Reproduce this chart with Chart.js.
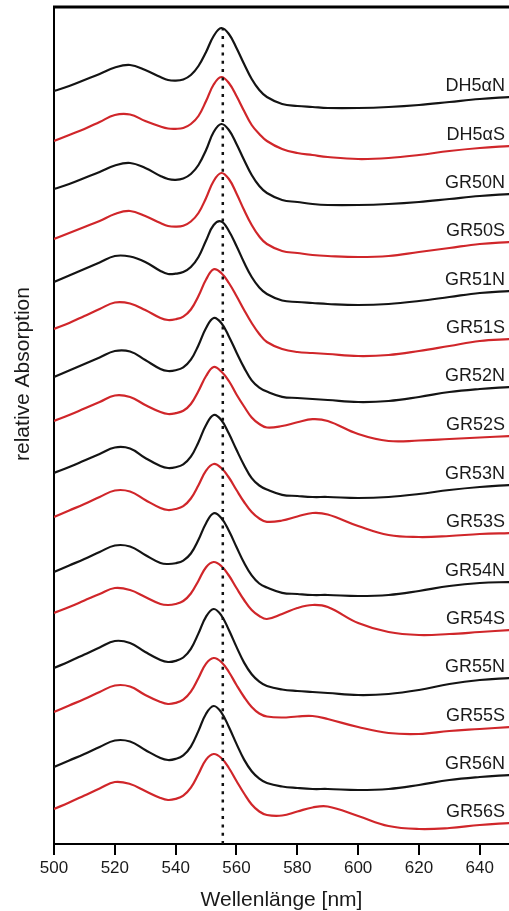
<!DOCTYPE html>
<html>
<head>
<meta charset="utf-8">
<script src="https://cdn.jsdelivr.net/npm/chart.js@4.4.1/dist/chart.umd.min.js"></script>
<style>
  html, body { margin: 0; padding: 0; background: #fff; }
  #wrap { width: 509px; height: 911px; position: relative; }
</style>
</head>
<body>
<div id="wrap"><canvas id="spectra"></canvas></div>
<script>
const wavelengths = [500, 505, 510, 515, 520, 525, 530, 535, 537.5, 540, 542.5, 545, 547.5, 550, 552.5,
    555, 557.5, 560, 562.5, 565, 567.5, 570, 575, 580, 585, 590, 600, 610, 620, 630, 640, 650];

// relative absorption of each sample, relative to its own value at 500 nm
const dh5aN = [0, 5, 11, 17, 23.5, 26, 21, 14, 11, 10.3, 11.5, 16, 25, 39, 55, 63, 57, 43, 27, 12, 1, -6, -13, -15, -16, -17, -17, -16, -14, -11, -8, -6];
const dh5aS = [0, 6, 12, 19, 26, 26.5, 20, 14.5, 12.5, 12.2, 13, 17, 25, 40, 56.5, 64, 58, 45, 30, 16, 7, 0, -8, -12, -14, -16, -18, -17, -14, -10, -7, -5];
const gr50N = [0, 5, 11, 17, 23.5, 26, 21, 13, 10, 9.2, 10.5, 15, 24, 39, 57, 65, 59, 45, 29, 14, 3, -4, -11, -13, -15, -16, -16, -15, -13, -10, -7, -5];
const gr50S = [0, 6, 12, 18, 25, 28, 23, 16, 13, 12.3, 13.2, 17.5, 26, 41, 58, 66, 60, 45.5, 29, 14, 2.5, -5, -12, -14, -16, -17, -18, -17, -13, -9, -5, -3];
const gr51N = [0, 6.5, 13, 19.5, 26, 25.5, 20, 11, 8, 8.3, 10, 15, 25, 41.5, 57, 60.5, 51, 36, 19.5, 5, -5.5, -12, -18.5, -20, -21, -22, -23, -22, -19, -15, -11, -9];
const gr51S = [0, 6, 13, 20, 26.5, 25.5, 19, 11, 9, 9.8, 12.4, 19.5, 33, 49.5, 59.7, 56, 46, 33, 19, 6, -5, -13, -20, -23, -24, -25, -27, -26, -22, -17, -12, -10];
const gr52N = [0, 6.5, 13, 19.5, 26, 25.5, 17, 8, 6, 6.8, 9.7, 17.3, 31.8, 49, 59, 54, 40.6, 24.6, 9.4, -3.4, -10.6, -14.6, -19.8, -21, -22, -23, -25, -24, -20, -15, -12, -10];
const gr52S = [0, 6, 12.5, 19, 25.5, 24, 16, 9, 7, 7.8, 10.2, 17, 30, 45, 54, 49.5, 40, 26.5, 14.5, 3.5, -3, -6.5, -5, -1.3, 1.8, 0, -13, -20, -19.5, -18, -16.5, -15];
const gr53N = [0, 6, 12.5, 19, 25.5, 24.5, 15, 7, 5, 5.8, 8.7, 16.3, 30.8, 48, 58, 53, 39.4, 23.2, 7.8, -5.2, -12.5, -16.5, -21.8, -23, -24, -24, -25, -24, -21, -17, -14, -12];
const gr53S = [0, 6.5, 13, 20, 26.5, 25.5, 17, 9, 7, 8, 10.9, 18.5, 31.8, 46.4, 53, 49, 39.5, 27, 15, 5, -1.5, -4.8, -3.5, 0.5, 4, 2.5, -9, -18, -20, -19, -17, -16];
const gr54N = [0, 6.5, 13, 20, 26.5, 25.5, 17, 9, 8, 8.8, 11.4, 18.5, 32.2, 48.8, 58.7, 54, 41.2, 25, 9.2, -3.4, -11.5, -15.5, -20.8, -22, -23, -23, -24, -23, -19, -14, -11, -10];
const gr54S = [0, 6, 12.5, 19, 25, 23, 16, 9, 8, 9, 12, 19.5, 32.3, 45.8, 51, 47, 37.5, 25, 13, 3, -3, -6, -1, 5, 8, 6, -10, -19, -22, -21, -19, -17];
const gr55N = [0, 6.5, 13.5, 20.5, 27, 25, 16, 8, 6, 7.1, 10.5, 19.2, 34.6, 51.4, 59, 52.7, 38, 21.1, 5.4, -6.2, -13.6, -18, -21.5, -23, -24, -25, -27, -26, -22, -16, -12, -10];
const gr55S = [0, 6.5, 13, 20, 26.5, 25.5, 17, 10, 8, 9.1, 12.3, 20.3, 34, 48.4, 54, 50, 40, 27, 15, 5, -1.5, -4.5, -5.5, -4.5, -4, -7, -15, -21, -22, -19, -17, -15];
const gr56N = [0, 6.5, 13, 20, 26.5, 25.5, 17, 9, 7, 8.1, 11.6, 20.4, 36.1, 53.3, 61, 54.7, 40, 23.1, 7.4, -4.2, -11.6, -16, -19.5, -21, -22, -22, -23, -22, -18, -13, -10, -8];
const gr56S = [0, 6.5, 13.5, 20.5, 27, 25, 18, 11, 9, 10.1, 13.3, 21.3, 35, 49.4, 55, 51, 41, 28, 15.5, 4.5, -2.5, -6, -6.5, -2.5, 1.5, 2.5, -7, -17, -20, -19, -16, -14];

const sampleNames = ['DH5\u03b1N', 'DH5\u03b1S', 'GR50N', 'GR50S', 'GR51N', 'GR51S', 'GR52N', 'GR52S',
    'GR53N', 'GR53S', 'GR54N', 'GR54S', 'GR55N', 'GR55S', 'GR56N', 'GR56S'];
const spectra = [dh5aN, dh5aS, gr50N, gr50S, gr51N, gr51S, gr52N, gr52S,
    gr53N, gr53S, gr54N, gr54S, gr55N, gr55S, gr56N, gr56S];
// vertical stacking offset of each spectrum (its level at 500 nm)
const offsets = [753, 703, 655, 605, 562, 515, 467, 423, 371, 327, 272, 231, 176, 132, 77, 35];

const xTicks = [500, 520, 540, 560, 580, 600, 620, 640];
const refWavelength = 555.5;

const FONT = '"Liberation Sans", Arial, Helvetica, sans-serif';
const BLACK = '#141414';
const RED = '#d0262a';

const datasets = spectra.map(function(values, k) {
    return {
        label: sampleNames[k],
        data: wavelengths.map((w, i) => ({ x: w, y: offsets[k] + values[i] })),
        borderColor: k % 2 === 0 ? BLACK : RED,
        borderWidth: 2.2,
        pointRadius: 0,
        tension: 0.4,
        fill: false,
        order: 1
    };
});

// dotted reference line at the main peak
datasets.push({
    label: 'ref',
    data: [{ x: refWavelength, y: 0 }, { x: refWavelength, y: offsets[0] + Math.max(...dh5aN) }],
    borderColor: '#111',
    borderWidth: 2.5,
    borderDash: [3, 5.3],
    pointRadius: 0,
    fill: false,
    order: 0
});

// sample names at the right end of each trace, plus frame top and y title
const decorations = {
    id: 'decorations',
    afterDraw(chart) {
        const ctx = chart.ctx;
        const area = chart.chartArea;
        ctx.save();
        ctx.strokeStyle = '#000';
        ctx.lineWidth = 3;
        ctx.beginPath();
        ctx.moveTo(area.left - 1, area.top);
        ctx.lineTo(area.right, area.top);
        ctx.stroke();

        ctx.fillStyle = '#1a1a1a';
        ctx.font = '18px ' + FONT;
        ctx.textAlign = 'right';
        ctx.textBaseline = 'middle';
        spectra.forEach(function(values, k) {
            const meta = chart.getDatasetMeta(k);
            const last = meta.data[meta.data.length - 1];
            ctx.fillText(sampleNames[k], 505, last.y - 11);
        });

        ctx.font = '21px ' + FONT;
        ctx.textAlign = 'center';
        ctx.translate(23, 374);
        ctx.rotate(-Math.PI / 2);
        ctx.fillText('relative Absorption', 0, 0);
        ctx.restore();
    }
};

const chartCtx = document.getElementById('spectra').getContext('2d');
const spectraChart = new Chart(chartCtx, {
    type: 'line',
    data: { datasets: datasets },
    options: {
        responsive: true,
        maintainAspectRatio: false,
        animation: false,
        layout: { padding: { top: 7, left: 0, right: 0, bottom: 0 } },
        plugins: {
            legend: { display: false },
            tooltip: { enabled: false }
        },
        scales: {
            x: {
                type: 'linear',
                min: 500,
                max: 649.6,
                afterFit: function(scale) { scale.height = 67; },
                afterBuildTicks: function(scale) {
                    scale.ticks = xTicks.map(v => ({ value: v }));
                },
                ticks: {
                    color: '#1a1a1a',
                    font: { family: FONT, size: 17 },
                    padding: 3,
                    maxRotation: 0,
                    autoSkip: false
                },
                grid: {
                    drawOnChartArea: false,
                    drawTicks: true,
                    tickLength: 11,
                    lineWidth: 2,
                    color: '#000'
                },
                border: { display: true, color: '#000', width: 2 },
                title: {
                    display: true,
                    text: 'Wellenl\u00e4nge [nm]',
                    color: '#1a1a1a',
                    font: { family: FONT, size: 21, lineHeight: 1 },
                    padding: { top: 0, bottom: 0 }
                }
            },
            y: {
                type: 'linear',
                min: 0,
                max: 837,
                afterFit: function(scale) { scale.width = 54; },
                ticks: { display: false },
                grid: { drawOnChartArea: false, drawTicks: false },
                border: { display: true, color: '#000', width: 2 }
            }
        }
    },
    plugins: [decorations]
});
</script>
</body>
</html>
